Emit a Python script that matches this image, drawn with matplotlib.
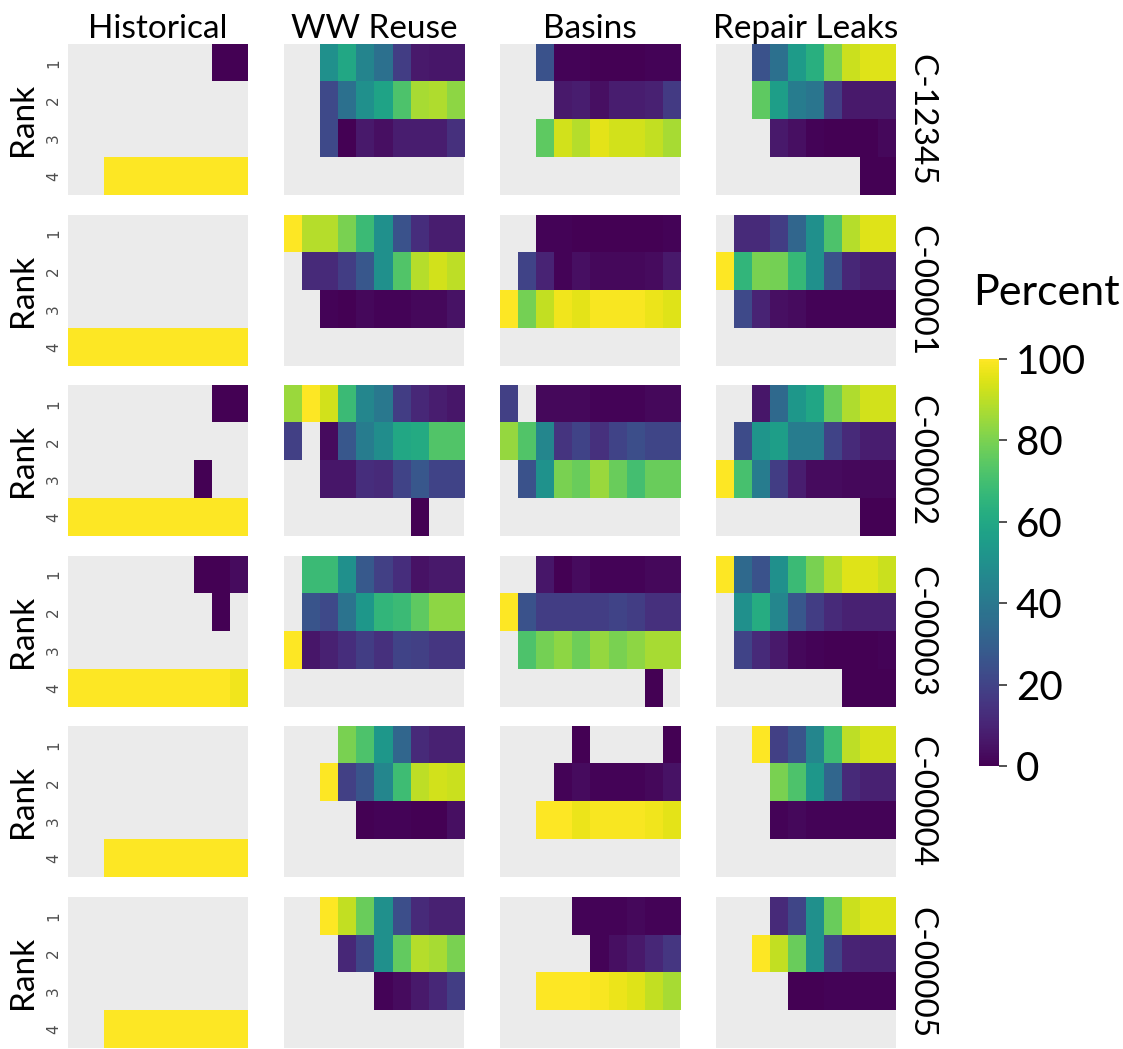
import matplotlib
matplotlib.use("Agg")
import matplotlib.pyplot as plt
import numpy as np

n = np.nan

strategies = ["Historical", "WW Reuse", "Basins", "Repair Leaks"]
scenarios = ["C-12345", "C-00001", "C-00002", "C-00003", "C-00004", "C-00005"]
ranks = [1, 2, 3, 4]

# percent of runs at each rank, 10 columns per panel, nan = not present
hist_12345 = [[n, n, n, n, n, n, n, n, 0, 0],
              [n] * 10,
              [n] * 10,
              [n, n, 100, 100, 100, 100, 100, 100, 100, 100]]
ww_12345 = [[n, n, 50, 60, 45, 37, 18, 7, 6, 6],
            [n, n, 22, 37, 50, 58, 72, 87, 88, 83],
            [n, n, 22, 0, 7, 4, 8, 8, 8, 14],
            [n] * 10]
basins_12345 = [[n, n, 25, 1, 1, 0, 0, 0, 1, 1],
                [n, n, n, 7, 8, 4, 8, 8, 9, 17],
                [n, n, 75, 93, 89, 96, 93, 93, 91, 87],
                [n] * 10]
repair_12345 = [[n, n, 25, 37, 55, 63, 80, 92, 95, 95],
                [n, n, 75, 56, 42, 39, 18, 7, 7, 7],
                [n, n, n, 7, 4, 1, 0, 0, 0, 2],
                [n, n, n, n, n, n, n, n, 0, 0]]

hist_00001 = [[n] * 10,
              [n] * 10,
              [n] * 10,
              [100] * 10]
ww_00001 = [[100, 89, 89, 80, 68, 50, 25, 13, 8, 8],
            [n, 12, 12, 18, 27, 50, 73, 89, 93, 90],
            [n, n, 1, 0, 2, 1, 1, 2, 2, 5],
            [n] * 10]
basins_00001 = [[n, n, 1, 1, 0, 0, 0, 0, 0, 1],
                [n, 20, 10, 1, 4, 2, 2, 2, 3, 7],
                [100, 79, 91, 98, 96, 99, 99, 99, 97, 95],
                [n] * 10]
repair_00001 = [[n, 12, 12, 18, 33, 50, 72, 89, 95, 95],
                [100, 66, 80, 79, 67, 50, 25, 11, 8, 8],
                [n, 22, 10, 4, 3, 1, 1, 1, 1, 1],
                [n] * 10]

hist_00002 = [[n, n, n, n, n, n, n, n, 0, 0],
              [n] * 10,
              [n, n, n, n, n, n, n, 0, n, n],
              [100] * 10]
ww_00002 = [[85, 100, 93, 68, 46, 40, 18, 11, 8, 6],
            [19, n, 3, 27, 42, 49, 60, 61, 73, 73],
            [n, n, 6, 6, 13, 12, 20, 27, 20, 20],
            [n, n, n, n, n, n, n, 0, n, n]]
basins_00002 = [[19, n, 2, 2, 2, 1, 1, 1, 2, 2],
                [84, 73, 46, 15, 20, 14, 20, 24, 21, 21],
                [n, 25, 51, 80, 77, 85, 77, 70, 77, 77],
                [n] * 10]
repair_00002 = [[n, n, 6, 34, 53, 59, 77, 88, 93, 93],
                [n, 23, 52, 56, 42, 42, 20, 12, 8, 8],
                [100, 71, 42, 18, 8, 3, 3, 2, 2, 2],
                [n, n, n, n, n, n, n, n, 0, 0]]

hist_00003 = [[n, n, n, n, n, n, n, 0, 0, 3],
              [n, n, n, n, n, n, n, n, 0, n],
              [n] * 10,
              [100, 100, 100, 100, 100, 100, 100, 100, 100, 98]]
ww_00003 = [[n, 68, 68, 50, 28, 19, 13, 5, 7, 7],
            [n, 26, 22, 38, 53, 66, 68, 75, 83, 83],
            [100, 6, 9, 13, 18, 14, 20, 19, 16, 16],
            [n] * 10]
basins_00003 = [[n, n, 6, 0, 3, 1, 1, 1, 2, 2],
                [100, 25, 18, 18, 18, 18, 20, 18, 14, 14],
                [n, 72, 79, 83, 78, 84, 80, 83, 87, 87],
                [n, n, n, n, n, n, n, n, 0, n]]
repair_00003 = [[100, 34, 25, 50, 68, 80, 89, 95, 95, 92],
                [n, 50, 62, 46, 27, 18, 12, 9, 9, 9],
                [n, 20, 12, 7, 2, 1, 0, 0, 0, 1],
                [n, n, n, n, n, n, n, 0, 0, 0]]

hist_00004 = [[n] * 10,
              [n] * 10,
              [n] * 10,
              [n, n, 100, 100, 100, 100, 100, 100, 100, 100]]
ww_00004 = [[n, n, n, 80, 72, 53, 33, 12, 9, 9],
            [n, n, 100, 19, 26, 46, 69, 90, 93, 92],
            [n, n, n, n, 0, 1, 1, 0, 0, 4],
            [n] * 10]
basins_00004 = [[n, n, n, n, 0, n, n, n, n, 0],
                [n, n, n, 1, 3, 1, 1, 1, 2, 5],
                [n, n, 100, 100, 97, 99, 99, 99, 98, 96],
                [n] * 10]
repair_00004 = [[n, n, 100, 19, 26, 46, 69, 90, 94, 94],
                [n, n, n, 80, 72, 53, 33, 12, 9, 9],
                [n, n, n, 1, 2, 1, 1, 1, 1, 1],
                [n] * 10]

hist_00005 = [[n] * 10,
              [n] * 10,
              [n] * 10,
              [n, n, 100, 100, 100, 100, 100, 100, 100, 100]]
ww_00005 = [[n, n, 100, 91, 77, 50, 24, 12, 9, 9],
            [n, n, n, 11, 21, 50, 76, 89, 87, 80],
            [n, n, n, n, n, 1, 3, 7, 11, 18],
            [n] * 10]
basins_00005 = [[n, n, n, n, 1, 1, 1, 2, 1, 1],
                [n, n, n, n, n, 1, 4, 7, 11, 16],
                [n, n, 100, 100, 100, 99, 97, 95, 91, 87],
                [n] * 10]
repair_00005 = [[n, n, n, 12, 21, 50, 77, 92, 95, 95],
                [n, n, 100, 91, 77, 50, 21, 10, 9, 9],
                [n, n, n, n, 0, 0, 1, 1, 1, 1],
                [n] * 10]

grid = [
    [hist_12345, ww_12345, basins_12345, repair_12345],
    [hist_00001, ww_00001, basins_00001, repair_00001],
    [hist_00002, ww_00002, basins_00002, repair_00002],
    [hist_00003, ww_00003, basins_00003, repair_00003],
    [hist_00004, ww_00004, basins_00004, repair_00004],
    [hist_00005, ww_00005, basins_00005, repair_00005],
]

plt.rcParams['font.family'] = ['Lato', 'DejaVu Sans']

W, H = 1123, 1049
fig = plt.figure(figsize=(W / 100, H / 100), dpi=100)

pw, ph = 180, 151
for r, scen in enumerate(scenarios):
    top = 44 + r * 170.6
    for c, strat in enumerate(strategies):
        left = 68 + c * 216
        ax = fig.add_axes([left / W, 1 - (top + ph) / H, pw / W, ph / H])
        ax.set_facecolor('#EBEBEB')
        vals = np.array(grid[r][c], dtype=float)
        im = ax.imshow(vals, cmap='viridis', vmin=0, vmax=100, aspect='auto',
                       interpolation='nearest')
        for s in ax.spines.values():
            s.set_visible(False)
        ax.set_xticks([])
        if c == 0:
            ax.set_yticks(range(4))
            ax.set_yticklabels(ranks, rotation=90, va='center',
                               family='DejaVu Sans', fontsize=11, color='#4D4D4D')
            ax.tick_params(axis='y', length=0, pad=5)
            ax.set_ylabel('Rank', fontsize=24, labelpad=6)
        else:
            ax.set_yticks([])
        if r == 0:
            ax.set_title(strat, fontsize=24, pad=4)
        if c == 3:
            ax.text(1.06, 0.5, scen, transform=ax.transAxes, rotation=270,
                    ha='left', va='center', fontsize=24)

cax = fig.add_axes([979 / W, 1 - 766 / H, 20 / W, 407 / H])
cb = fig.colorbar(im, cax=cax, ticks=[0, 20, 40, 60, 80, 100])
cb.outline.set_visible(False)
cb.ax.tick_params(labelsize=29, length=6, width=1.2, color='#333333', pad=6)
fig.text(1046 / W, 1 - 293 / H, 'Percent', ha='center', va='center', fontsize=31)

fig.savefig('out.png', dpi=100)
